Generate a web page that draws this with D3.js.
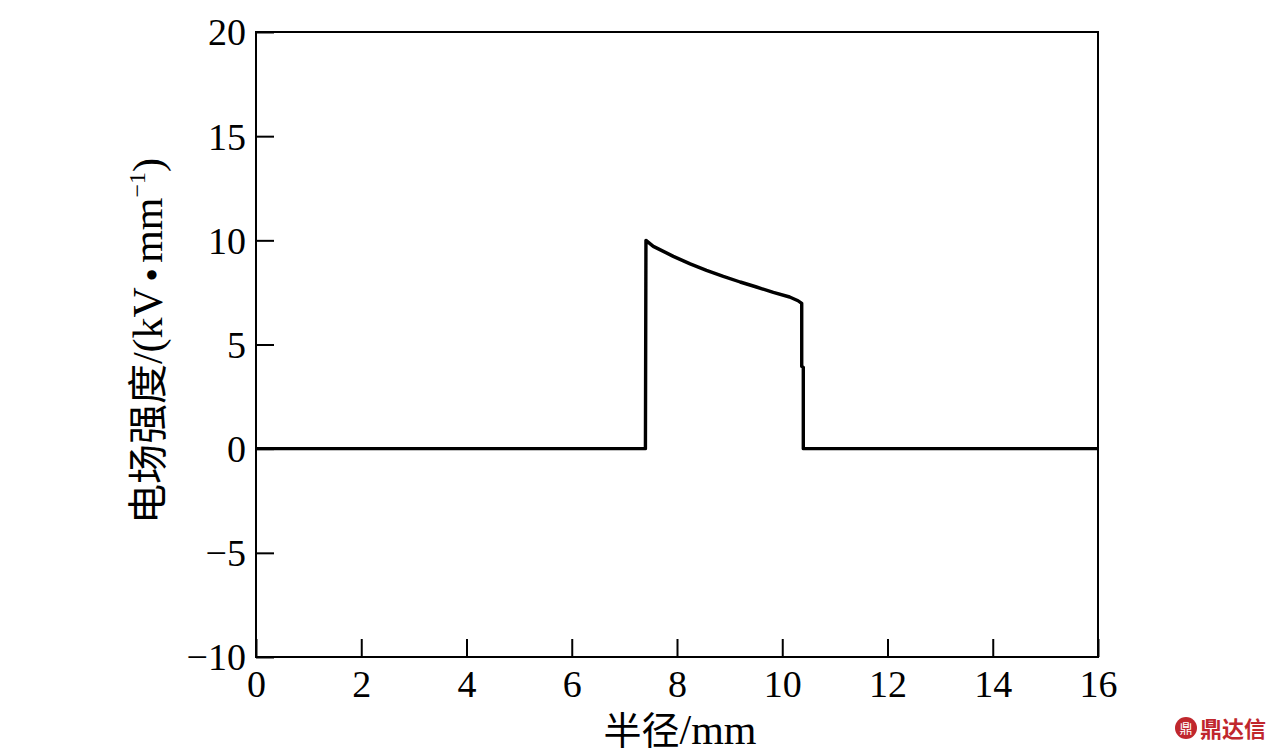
<!DOCTYPE html>
<html><head><meta charset="utf-8">
<script src="https://cdn.jsdelivr.net/npm/d3@7"></script>
<style>html,body{margin:0;padding:0;background:#fff;}</style>
</head><body>
<svg id="chart" width="1276" height="754"></svg>
<script>
const radius = [0, 7.40, 7.41, 7.55, 7.93, 8.25, 8.56, 8.88, 9.20, 9.51, 9.83, 10.14, 10.30, 10.37, 10.37, 10.40, 10.40, 16];
const fieldStrength = [0, 0, 10.0, 9.71, 9.23, 8.87, 8.56, 8.27, 8.00, 7.76, 7.50, 7.28, 7.10, 6.97, 3.95, 3.9, 0, 0];
const xTicks = [0, 2, 4, 6, 8, 10, 12, 14, 16];
const yTicks = [-10, -5, 0, 5, 10, 15, 20];

const svg = d3.select("#chart");
const L = 256, R = 1098, T = 32, B = 657;
const x = d3.scaleLinear().domain([0, 16]).range([L, R]);
const y = d3.scaleLinear().domain([-10, 20]).range([B, T]);
const serif = "'Liberation Serif','Times New Roman',serif";
const cjk = "'Noto Sans CJK SC',sans-serif";
const fmt = d => d < 0 ? "\u2212" + Math.abs(d) : d;

// frame
svg.append("rect").attr("x", L).attr("y", T).attr("width", R - L).attr("height", B - T)
  .attr("fill", "none").attr("stroke", "#000").attr("stroke-width", 2);

// axes with inward ticks
const xAxis = d3.axisBottom(x).tickValues(xTicks).tickSizeInner(-18).tickSizeOuter(0).tickFormat(fmt);
const gx = svg.append("g").attr("transform", `translate(0,${B})`).call(xAxis);
gx.select(".domain").remove();
gx.selectAll(".tick line").attr("stroke", "#000").attr("stroke-width", 2);
gx.selectAll(".tick text").attr("font-family", serif).attr("font-size", 38).attr("fill", "#000")
  .attr("y", 40).attr("dy", 0);

const yAxis = d3.axisLeft(y).tickValues(yTicks).tickSizeInner(-18).tickSizeOuter(0).tickFormat(fmt);
const gy = svg.append("g").attr("transform", `translate(${L},0)`).call(yAxis);
gy.select(".domain").remove();
gy.selectAll(".tick line").attr("stroke", "#000").attr("stroke-width", 2);
gy.selectAll(".tick text").attr("font-family", serif).attr("font-size", 38).attr("fill", "#000")
  .attr("x", -10).attr("dy", "0.34em");

// curve
const pts = radius.map((r, i) => [r, fieldStrength[i]]);
svg.append("path").datum(pts)
  .attr("d", d3.line().x(d => x(d[0])).y(d => y(d[1])))
  .attr("fill", "none").attr("stroke", "#000").attr("stroke-width", 3.4).attr("stroke-linejoin", "round");

// x title
const xt = svg.append("text").attr("x", (L + R) / 2 + 3).attr("y", 744).attr("text-anchor", "middle")
  .attr("font-size", 38).attr("fill", "#000");
xt.append("tspan").attr("font-family", cjk).text("半径");
xt.append("tspan").attr("font-family", serif).attr("font-size", 42).text("/mm");

// y title
const yt = svg.append("text").attr("transform", `translate(162,341) rotate(-90)`)
  .attr("text-anchor", "middle").attr("font-size", 40).attr("fill", "#000");
yt.append("tspan").attr("font-family", cjk).text("电场强度");
yt.append("tspan").attr("font-family", serif).attr("font-size", 42).text("/(kV");
yt.append("tspan").attr("font-family", serif).attr("font-size", 22).attr("dy", -4).text(" \u25CF ");
yt.append("tspan").attr("font-family", serif).attr("font-size", 42).attr("dy", 4).text("mm");
yt.append("tspan").attr("font-family", serif).attr("font-size", 24).attr("dy", -17).text("\u22121");
yt.append("tspan").attr("font-family", serif).attr("font-size", 42).attr("dy", 17).text(")");

// watermark
const wm = svg.append("g").attr("transform", "translate(1186,728)");
wm.append("circle").attr("r", 11).attr("fill", "#c0272d");
wm.append("text").attr("x", 0).attr("y", 5).attr("text-anchor", "middle").attr("font-family", cjk)
  .attr("font-size", 13).attr("fill", "#fff").text("鼎");
svg.append("text").attr("x", 1200).attr("y", 737).attr("font-family", cjk).attr("font-weight", "bold")
  .attr("font-size", 22).attr("fill", "#c0272d").text("鼎达信");
</script>
</body></html>
